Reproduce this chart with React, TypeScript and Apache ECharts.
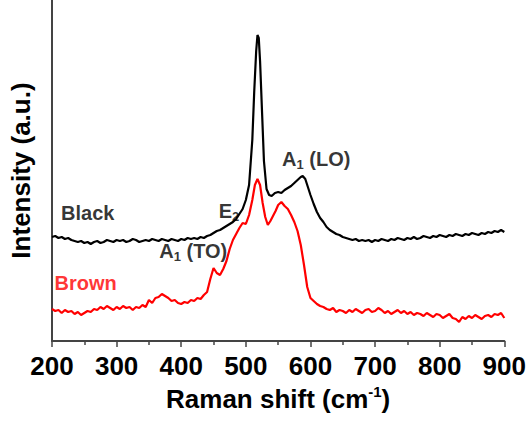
import React, { useEffect, useRef } from "react";
import * as echarts from "echarts";

const ramanShift: number[] = [
  200, 205, 210, 215, 220, 225, 230, 235, 240, 245, 250, 255, 260, 265, 270, 275, 280, 285, 290, 295,
  300, 305, 310, 315, 320, 325, 330, 335, 340, 345, 350, 355, 360, 365, 370, 375, 380, 385, 390, 395,
  400, 405, 410, 415, 420, 425, 430, 435, 440, 445, 450, 455, 460, 465, 470, 475, 480, 485, 490, 495,
  500, 505, 510, 513, 516, 518, 520, 522, 525, 528, 532, 536, 540, 545, 550, 555, 560, 565, 570, 575,
  580, 585, 588, 592, 596, 600, 605, 610, 615, 620, 625, 630, 635, 640, 645, 650, 655, 660, 665, 670,
  675, 680, 685, 690, 695, 700, 705, 710, 715, 720, 725, 730, 735, 740, 745, 750, 755, 760, 765, 770,
  775, 780, 785, 790, 795, 800, 805, 810, 815, 820, 825, 830, 835, 840, 845, 850, 855, 860, 865, 870,
  875, 880, 885, 890, 895, 900,
];

const blackIntensity: number[] = [
  104, 105, 103, 104, 102, 103, 101, 100, 99, 100, 98, 99, 97, 99, 100, 98, 99, 101, 100, 99,
  101, 100, 101, 99, 100, 102, 101, 99, 100, 101, 100, 102, 101, 100, 102, 101, 100, 102, 101, 100,
  102, 101, 103, 102, 103, 102, 104, 103, 105, 106, 108, 110, 111, 113, 115, 117, 119, 122, 127, 132,
  141, 156, 201, 250, 290, 306, 303, 280, 230, 180, 152, 146, 145, 148, 149, 148, 151, 153, 155, 158,
  161, 164, 165, 162, 154, 146, 137, 129, 123, 119, 114, 111, 109, 107, 106, 104, 103, 102, 101, 102,
  100, 101, 100, 101, 99, 101, 100, 102, 101, 100, 102, 101, 103, 102, 101, 103, 102, 104, 102, 103,
  105, 104, 103, 105, 104, 106, 105, 104, 106, 105, 107, 106, 105, 107, 106, 108, 107, 106, 108, 107,
  109, 108, 110, 109, 111, 109,
];

const brownShift: number[] = [
  200, 205, 210, 215, 220, 225, 230, 235, 240, 245, 250, 255, 260, 265, 270, 275, 280, 285, 290, 295,
  300, 305, 310, 315, 320, 325, 330, 335, 340, 345, 350, 355, 360, 365, 370, 375, 380, 385, 390, 395,
  400, 405, 410, 415, 420, 425, 430, 435, 440, 445, 450, 455, 460, 465, 470, 475, 480, 485, 490, 495,
  500, 505, 510, 514, 518, 522, 526, 530, 534, 538, 542, 546, 550, 555, 560, 565, 570, 575, 580, 585,
  590, 595, 600, 605, 610, 615, 620, 625, 630, 635, 640, 645, 650, 655, 660, 665, 670, 675, 680, 685,
  690, 695, 700, 705, 710, 715, 720, 725, 730, 735, 740, 745, 750, 755, 760, 765, 770, 775, 780, 785,
  790, 795, 800, 805, 810, 815, 820, 825, 830, 835, 840, 845, 850, 855, 860, 865, 870, 875, 880, 885,
  890, 895, 900,
];

const brownIntensity: number[] = [
  32, 30, 31, 28, 31, 29, 30, 27, 29, 26, 28, 30, 29, 32, 31, 34, 32, 35, 33, 31,
  34, 32, 35, 33, 34, 31, 34, 33, 36, 34, 41, 38, 43, 44, 47, 45, 43, 40, 41, 38,
  37, 39, 38, 41, 40, 43, 42, 46, 49, 62, 73, 68, 66, 72, 80, 92, 101, 107, 113, 118,
  117, 126, 141, 156, 162, 156, 138, 124, 116, 120, 125, 130, 136, 139, 135, 132, 126, 119, 110, 96,
  76, 54, 43, 40, 37, 35, 34, 32, 31, 33, 29, 31, 30, 28, 31, 29, 32, 30, 28, 31,
  32, 29, 30, 33, 31, 28, 30, 27, 29, 31, 28, 30, 27, 29, 26, 28, 27, 25, 28, 26,
  24, 27, 26, 23, 25, 27, 23, 22, 19, 24, 22, 25, 23, 26, 24, 22, 25, 26, 24, 27,
  26, 28, 23,
];

const xTicks: number[] = [200, 300, 400, 500, 600, 700, 800, 900];

// annotation texts, anchored at (Raman shift, intensity) = left-middle of text
const annotationTexts: string[] = ["{b|Black}", "{r|Brown}", "{b|E}{s|2}", "{b|A}{s|1}{b| (TO)}", "{b|A}{s|1}{b| (LO)}"];
const annotationShift: number[] = [214, 204, 458, 366, 556];
const annotationIntensity: number[] = [128, 58, 130, 90, 182];

const FONT = '"Liberation Sans", Arial, sans-serif';

export default function App() {
  const ref = useRef<HTMLDivElement>(null);
  useEffect(() => {
    if (!ref.current) return;
    const chart = echarts.init(ref.current, null, { renderer: "svg" });
    const black = ramanShift.map((x, i) => [x, blackIntensity[i]]);
    const brown = brownShift.map((x, i) => [x, brownIntensity[i]]);
    const ann = annotationTexts.map((t, i) => ({
      value: [annotationShift[i], annotationIntensity[i]],
      label: { formatter: t },
    }));
    const rich = {
      b: { fontFamily: FONT, fontWeight: "bold", fontSize: 20, color: "#000", lineHeight: 24 },
      r: { fontFamily: FONT, fontWeight: "bold", fontSize: 20, color: "#ff0000", lineHeight: 24 },
      s: { fontFamily: FONT, fontWeight: "bold", fontSize: 13, color: "#000", lineHeight: 24, verticalAlign: "bottom", padding: [14, 0, 0, 0] },
    };
    chart.setOption({
      animation: false,
      backgroundColor: "#fff",
      grid: { left: 44, right: 23, top: 0, bottom: 80, containLabel: false },
      xAxis: {
        type: "value",
        min: 200,
        max: 900,
        interval: 100,
        axisLine: { show: true, lineStyle: { color: "#444", width: 2 } },
        axisTick: { show: true, length: 6, inside: false, lineStyle: { color: "#444", width: 1.5 } },
        minorTick: { show: true, splitNumber: 2, length: 4, lineStyle: { color: "#444", width: 1.5 } },
        splitLine: { show: false },
        axisLabel: {
          fontFamily: FONT,
          fontWeight: "bold",
          fontSize: 26,
          color: "#000",
          margin: 12,
          formatter: (v: number) => (xTicks.includes(v) ? String(v) : ""),
        },
        name: "{a|Raman shift (cm}{sup|-1}{a|)}",
        nameLocation: "middle",
        nameGap: 42,
        nameTextStyle: {
          rich: {
            a: { fontFamily: FONT, fontWeight: "bold", fontSize: 26, color: "#000", lineHeight: 30 },
            sup: { fontFamily: FONT, fontWeight: "bold", fontSize: 15, color: "#000", lineHeight: 30, verticalAlign: "top", padding: [0, 0, 14, 0] },
          },
        },
      },
      yAxis: {
        type: "value",
        min: 0,
        max: 341,
        axisLine: { show: true, onZero: false, lineStyle: { color: "#444", width: 2 } },
        axisTick: { show: false },
        axisLabel: { show: false },
        splitLine: { show: false },
        name: "Intensity (a.u.)",
        nameLocation: "middle",
        nameGap: 18,
        nameTextStyle: { fontFamily: FONT, fontWeight: "bold", fontSize: 26, color: "#000" },
      },
      series: [
        {
          type: "line",
          name: "Black",
          data: black,
          showSymbol: false,
          symbol: "none",
          lineStyle: { color: "#000", width: 2.2 },
          z: 3,
        },
        {
          type: "line",
          name: "Brown",
          data: brown,
          showSymbol: false,
          symbol: "none",
          lineStyle: { color: "#ff0000", width: 2.2 },
          z: 2,
        },
        {
          type: "scatter",
          data: ann,
          symbolSize: 0,
          silent: true,
          label: { show: true, position: "right", distance: 0, color: "#000", textBorderWidth: 0, rich },
          z: 5,
        },
      ],
    });
    return () => chart.dispose();
  }, []);
  return <div ref={ref} style={{ width: 529, height: 421, position: "absolute", left: 0, top: 0 }} />;
}
